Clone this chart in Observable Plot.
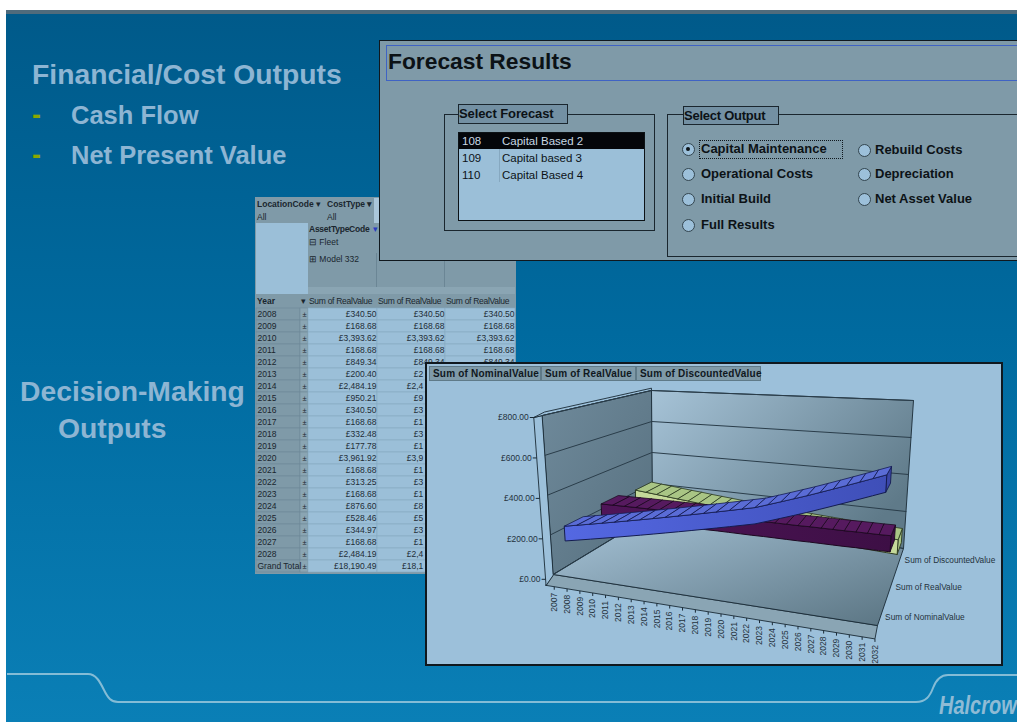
<!DOCTYPE html>
<html>
<head>
<meta charset="utf-8">
<title>Forecast Results</title>
<script src="https://cdn.jsdelivr.net/npm/d3@7"></script>
<script src="https://cdn.jsdelivr.net/npm/@observablehq/plot@0.6"></script>
<style>
  html, body { margin: 0; padding: 0; background: #fff; }
  #page { position: relative; width: 1017px; height: 722px; overflow: hidden; font-family: "Liberation Sans", Arial, sans-serif; }
  #slide { position: absolute; left: 6px; top: 10px; right: 0; bottom: 0;
           background: linear-gradient(#005a8a 0%, #006a9f 45%, #0a7fb6 100%);
           border-top: 4px solid #4f6b7c; box-sizing: border-box; }
  .abs { position: absolute; white-space: nowrap; box-sizing: border-box; }
  .head { color: #8db5d3; font-weight: bold; font-size: 28.3px; line-height: 30px; }
  .item { color: #8db5d3; font-weight: bold; font-size: 25.5px; line-height: 30px; }
  .dash { color: #8aa800; font-weight: bold; font-size: 27px; line-height: 30px; }
  .panel { background: #7f9aa8; border: 2px solid #10181e; }
  .btn { background: #7f9aa8; border: 1px solid #5f7a88; font-weight: bold; font-size: 10px; color: #10181e; line-height: 13px; padding-left: 3px; letter-spacing: .2px; }
  .th { font-size: 8.5px; line-height: 12px; color: #1a262e; padding-left: 1px; }
  .form { font-size: 13px; font-weight: bold; color: #0c1216; line-height: 16px; }
  .list { font-size: 11.5px; color: #0c1216; line-height: 16px; }
  .radio { width: 13px; height: 13px; border-radius: 50%; background: #9cc0da; border: 1px solid #33454f; }
  svg { position: absolute; display: block; }
</style>
</head>
<body>
<div id="page"><div id="slide"></div></div>
<script>
// Slide headings
const financialHeading = "Financial/Cost Outputs";
const financialItems = ["Cash Flow", "Net Present Value"];
const decisionHeading = ["Decision-Making", "Outputs"];

// Forecast selector form
const formTitle = "Forecast Results";
const forecastIds = ["108", "109", "110"];
const forecastNames = ["Capital Based 2", "Capital based 3", "Capital Based 4"];
const outputsLeft = ["Capital Maintenance", "Operational Costs", "Initial Build", "Full Results"];
const outputsRight = ["Rebuild Costs", "Depreciation", "Net Asset Value"];

// Pivot table
const tableYears = ["2008","2009","2010","2011","2012","2013","2014","2015","2016","2017","2018","2019","2020","2021","2022","2023","2024","2025","2026","2027","2028","Grand Total"];
const realValueSums = [340.50,168.68,3393.62,168.68,849.34,200.40,2484.19,950.21,340.50,168.68,332.48,177.78,3961.92,168.68,313.25,168.68,876.60,528.46,344.97,168.68,2484.19,18190.49];

// 3-D ribbon chart
const chartYears = d3.range(2007, 2033);
const valueTicks = [0, 200, 400, 600, 800];
const seriesNames = ["Sum of NominalValue", "Sum of RealValue", "Sum of DiscountedValue"];
const nominalValues = [230,243,256,269,282,295,308,321,334,347,360,373,386,399,412,425,444,463,482,501,521,541,561,581,601,621];
const realValues = [250,251,252,253,253,254,254,255,255,255,256,256,256,256,257,257,257,257,258,258,258,258,259,259,259,260];
const discountedValues = [232,226,220,214,208,203,197,192,187,182,177,173,168,164,160,156,152,149,146,143,140,138,136,134,132,130];

const page = document.getElementById("page");
function place(cls, x, y, w, h, text, style) {
  const el = document.createElement("div");
  el.className = "abs " + cls;
  el.style.left = x + "px"; el.style.top = y + "px";
  if (w != null) el.style.width = w + "px";
  if (h != null) el.style.height = h + "px";
  if (text != null) el.textContent = text;
  if (style) Object.assign(el.style, style);
  page.appendChild(el);
  return el;
}

/* ---- headings ---- */
place("head", 32, 59, null, null, financialHeading);
financialItems.forEach((t, i) => {
  place("dash", 32, 100 + i * 40, null, null, "-");
  place("item", 71, 100 + i * 40, null, null, t);
});
place("head", 20, 376, null, null, decisionHeading[0]);
place("head", 58, 413, null, null, decisionHeading[1]);

/* ---- pivot table header ---- */
const gray = "#7f9aa8", light = "#9bbfd8";
place("", 255, 197, 261, 377, null, { background: gray });
place("th", 256, 198, 62, 13, "LocationCode", { fontWeight: "bold", background: gray });
place("th", 316, 198, 8, 13, "▾", { background: gray, padding: 0 });
place("th", 326, 198, 48, 13, "CostType ▾", { fontWeight: "bold", background: gray });
place("", 374, 198, 141, 25, null, { background: "#a9c6da" });
place("th", 256, 211, 68, 12, "All", { background: gray });
place("th", 326, 211, 48, 12, "All", { background: gray });
place("", 256, 223, 52, 71, null, { background: light });
place("th", 308, 223, 207, 12, "AssetTypeCode", { fontWeight: "bold", background: gray, letterSpacing: "-.25px" });
place("th", 373, 223, 6, 12, "▾", { color: "#2a3cc0", padding: 0 });
place("th", 308, 236, 207, 12, "⊟ Fleet", { background: gray });
place("th", 308, 253, 69, 34, "⊞ Model 332", { background: gray, borderRight: "1px solid #6b8695" });
place("", 377, 253, 68, 34, null, { background: gray, borderRight: "1px solid #6b8695" });
place("th", 308, 287, 69, 7, null, { background: "#8aa5b3" });
place("th", 377, 287, 68, 7, null, { background: "#8aa5b3" });
place("th", 445, 287, 70, 7, null, { background: "#8aa5b3" });
place("th", 256, 295, 44, 12, "Year", { fontWeight: "bold", background: gray });
place("th", 301, 295, 7, 12, "▾", { background: gray, padding: 0 });
[308, 377, 445].forEach(x => place("th", x + 1, 295, 68, 12, "Sum of RealValue", { background: gray, padding: 0, letterSpacing: "-.3px" }));

/* ---- pivot table body, one band per row ---- */
const money = d => "£" + d3.format(",.2f")(d);
const tableRows = tableYears.map((year, i) => ({ year, value: realValueSums[i] }));
const valueColumns = [[308, 377], [377, 445], [445, 515]];
const tableFont = "8.5px Liberation Sans";
const measure = document.createElement("canvas").getContext("2d");
measure.font = tableFont;

// Rows from 2013 on run behind the chart panel: the middle column keeps only
// the characters left of the panel edge, the last column is fully covered.
const panelLeft = 425, firstCoveredRow = 5;
const clippedRows = tableRows.slice(firstCoveredRow).map(d => {
  const full = money(d.value), right = valueColumns[1][1] - 1;
  const start = right - measure.measureText(full).width;
  let shown = full;
  while (shown && start + measure.measureText(shown).width > panelLeft) shown = shown.slice(0, -1);
  return { year: d.year, shown, start };
});
const tablePlot = Plot.plot({
  width: 259, height: 266, margin: 0,
  style: { background: "transparent", left: "256px", top: "307px", position: "absolute", overflow: "visible" },
  x: { domain: [256, 515], range: [0, 259], axis: null },
  y: { domain: tableYears, padding: 0, axis: null },
  marks: [
    Plot.barX(tableRows, { y: "year", x1: () => 256, x2: () => 300, fill: gray, stroke: "#6d8897", strokeWidth: 0.6, inset: 0 }),
    Plot.barX(tableRows, { y: "year", x1: () => 300, x2: () => 308, fill: "#8aa5b3", stroke: "#6d8897", strokeWidth: 0.6, inset: 0 }),
    ...valueColumns.map(([a, b]) =>
      Plot.barX(tableRows, { y: "year", x1: () => a, x2: () => b, fill: light, stroke: "#86a8c0", strokeWidth: 0.6, inset: 0 })),
    Plot.text(tableRows, { y: "year", x: () => 257, text: "year", textAnchor: "start", fontSize: 8.5, fill: "#1a262e", fontFamily: "Liberation Sans" }),
    Plot.text(tableRows, { y: "year", x: () => 304, text: () => "±", fontSize: 7.5, fill: "#1a262e", fontFamily: "Liberation Sans" }),
    Plot.text(tableRows, { y: "year", x: () => valueColumns[0][1] - 1, text: d => money(d.value), textAnchor: "end", fontSize: 8.5, fill: "#1f2d36", fontFamily: "Liberation Sans" }),
    Plot.text(tableRows.slice(0, firstCoveredRow), { y: "year", x: () => valueColumns[1][1] - 1, text: d => money(d.value), textAnchor: "end", fontSize: 8.5, fill: "#1f2d36", fontFamily: "Liberation Sans" }),
    Plot.text(clippedRows, { y: "year", x: "start", text: "shown", textAnchor: "start", fontSize: 8.5, fill: "#1f2d36", fontFamily: "Liberation Sans" }),
    Plot.text(tableRows.slice(0, firstCoveredRow), { y: "year", x: () => valueColumns[2][1] - 1, text: d => money(d.value), textAnchor: "end", fontSize: 8.5, fill: "#1f2d36", fontFamily: "Liberation Sans" })
  ]
});
page.appendChild(tablePlot);

/* ---- forecast selector form ---- */
place("panel", 379, 40, 650, 221, null, { borderWidth: "1px" });
place("", 386, 45, 640, 36, null, { border: "1px solid #3f63c4" });
place("", 388, 47, null, null, formTitle, { fontSize: "22.8px", lineHeight: "28px", fontWeight: "bold", color: "#0c1216" });

place("", 444, 114, 211, 117, null, { border: "1px solid #1a262e" });
place("form", 458, 104, 110, 20, "Select Forecast", { background: "#7390a3", border: "1px solid #1a262e", lineHeight: "17px", letterSpacing: "-.1px" });
place("", 458, 132, 187, 89, null, { background: light, border: "1px solid #0c1216" });
place("", 459, 133, 185, 16, null, { background: "#04060a" });
place("", 499, 149, 1, 33, null, { background: "#86a8c0" });
forecastIds.forEach((id, i) => {
  const color = i === 0 ? "#c8d8e4" : "#0c1216";
  place("list", 462, 133 + i * 16.8, null, null, id, { color });
  place("list", 502, 133 + i * 16.8, null, null, forecastNames[i], { color });
});

place("", 667, 114, 360, 143, null, { border: "1px solid #1a262e" });
place("form", 683, 106, 96, 19, "Select Output", { background: "#7390a3", border: "1px solid #1a262e", lineHeight: "17px", letterSpacing: "-.25px", paddingLeft: "0" });
place("", 699, 140, 144, 19, null, { border: "1px dotted #10181e" });
const radioRowsLeft = [149, 174, 199, 225], radioRowsRight = [150, 174, 199];
function radio(cx, cy, label, tx, on) {
  place("radio", cx - 6.5, cy - 6.5);
  if (on) place("", cx - 2, cy - 2, 4, 4, null, { background: "#0c1216", borderRadius: "50%" });
  place("form", tx, cy - 8, null, null, label);
}
outputsLeft.forEach((t, i) => radio(688, radioRowsLeft[i], t, 701, i === 0));
outputsRight.forEach((t, i) => radio(864, radioRowsRight[i], t, 875, false));

/* ---- chart panel and its field buttons ---- */
place("panel", 425, 362, 578, 304, null, { background: "#9cc0da" });
[[429, 112], [541, 95], [636, 125]].forEach(([x, w], i) =>
  place("btn", x, 366, w, 15, seriesNames[i]));

/* ---- perspective from (year fraction, value, depth fraction) to panel pixels ---- */
const ox = 425, oy = 362, vMax = 800;
const corners = {
  low:  { fl: [553, 574], fr: [877, 625], bl: [652, 514], br: [903, 548] },
  high: { fl: [542, 415], fr: [889, 435], bl: [651, 390], br: [913, 400] }
};
const lerp = (a, b, k) => a + (b - a) * k;
function plane(c, t, d, i) { return lerp(lerp(c.fl[i], c.fr[i], t), lerp(c.bl[i], c.br[i], t), d); }
function project(t, v, d) {
  const w = v / vMax;
  return [lerp(plane(corners.low, t, d, 0), plane(corners.high, t, d, 0), w) - ox,
          lerp(plane(corners.low, t, d, 1), plane(corners.high, t, d, 1), w) - oy];
}
let polyId = 0;
const poly = pts => { const id = polyId++; return pts.map(p => { const [x, y] = project(...p); return { id, x, y }; }); };
const shape = (polys, fill, stroke = "#1a2a36", strokeWidth = 0.9) =>
  Plot.line(polys.flat(), { x: "x", y: "y", z: "id", fill, stroke, strokeWidth, curve: "linear-closed" });
const path = (polys, stroke, strokeWidth = 1) =>
  Plot.line(polys.flat(), { x: "x", y: "y", z: "id", stroke, strokeWidth });

/* ---- one ribbon: front face, ruled top face and an end cap ---- */
const ribbonHeight = 75;
const yearSpan = i => lerp(0.022, 0.995, i / (chartYears.length - 1));
function ribbon(values, d0, d1, frontFill, topFill, capFill, edge) {
  const t = yearSpan;
  const front = [poly([
    ...values.map((v, i) => [t(i), v, d0]),
    ...values.map((v, i) => [t(i), v - ribbonHeight, d0]).reverse()
  ])];
  const cells = d3.pairs(values.map((v, i) => [v, i])).map(([[a, i], [b, j]]) =>
    poly([[t(i), a, d0], [t(j), b, d0], [t(j), b, d1], [t(i), a, d1]]));
  const last = values.length - 1, end = values[last], tEnd = t(last);
  const cap = [poly([[tEnd, end, d0], [tEnd, end, d1], [tEnd, end - ribbonHeight, d1], [tEnd, end - ribbonHeight, d0]])];
  return [shape(cap, capFill, edge), shape(front, frontFill, edge, 1), shape(cells, topFill, edge, 0.8)];
}

/* ---- shaded surfaces ---- */
const gradients = () => {
  const g = document.createElementNS("http://www.w3.org/2000/svg", "g");
  g.innerHTML = `<defs>
    <linearGradient id="backWall" x1="0" y1="0" x2="1" y2="0.6"><stop offset="0" stop-color="#a6c3d7"/><stop offset="1" stop-color="#5f7a89"/></linearGradient>
    <linearGradient id="sideWall" x1="0" y1="0" x2="1" y2="1"><stop offset="0" stop-color="#6f8a9b"/><stop offset="1" stop-color="#566f7e"/></linearGradient>
    <linearGradient id="floor" x1="0" y1="0" x2="1" y2="1"><stop offset="0" stop-color="#a8c5d9"/><stop offset="1" stop-color="#5a7482"/></linearGradient>
    <linearGradient id="blueFront" x1="0" y1="0" x2="1" y2="0"><stop offset="0" stop-color="#5468e2"/><stop offset="1" stop-color="#3f4fb8"/></linearGradient>
    <linearGradient id="purpleFront" x1="0" y1="0" x2="1" y2="0"><stop offset="0" stop-color="#4f1558"/><stop offset="1" stop-color="#3d0f45"/></linearGradient>
  </defs>`;
  return g;
};

const base = -30, skirt = -0.08;
const wallLines = valueTicks.filter(v => v > 0).map(v => poly([[0, v, 0], [0, v, 1], [1, v, 1]]));
const firstLine = [poly([[0, 0, 0], [0, 0, 1]])];

// Year labels under the base plate
const labelSpan = i => lerp(0.025, 1, i / (chartYears.length - 1));
const yearLabels = chartYears.map((year, i) => {
  const [x, y] = project(labelSpan(i), base, skirt);
  return { year, x, y: y + 6, y0: y };
});
const valueLabels = valueTicks.map(v => {
  const [x, y] = project(0, v, skirt);
  return { v, x: x - 4, y, xe: x };
});
const depthSlots = [0.1, 0.5, 0.85];
const depthLabels = seriesNames.map((name, i) => {
  const [x, y] = project(1, 0, depthSlots[i]);
  return { name, x: x + 5, y };
});

const chartPlot = Plot.plot({
  width: 576, height: 302, margin: 0,
  style: { background: "transparent", left: ox + "px", top: oy + "px", position: "absolute" },
  x: { domain: [0, 576], range: [0, 576], axis: null },
  y: { domain: [0, 302], range: [0, 302], axis: null },
  marks: [
    gradients,
    shape([poly([[0, base, skirt], [1, base, skirt], [1, 0, 0], [0, 0, 0]])], "#8aa5b4"),
    shape([poly([[0, base, skirt], [0, 800, skirt], [0, 800, 0], [0, 0, 0]])], "#9cc0da"),
    shape([poly([[0, 800, skirt], [0, 815, 0.02], [0, 815, 1], [0, 800, 1], [0, 800, 0]])], "#9cc0da"),
    shape([poly([[0, 0, 1], [1, 0, 1], [1, 800, 1], [0, 800, 1]])], "url(#backWall)"),
    shape([poly([[0, 0, 0], [0, 0, 1], [0, 800, 1], [0, 800, 0]])], "url(#sideWall)"),
    shape([poly([[0, 0, 0], [1, 0, 0], [1, 0, 1], [0, 0, 1]])], "url(#floor)"),
    path(wallLines, "#2a3d4a", 1),
    path(firstLine, "#2a3d4a", 1),
    ...ribbon(discountedValues, 0.78, 0.94, "#c5d99a", "#a9c585", "#a9c585", "#2c3a20"),
    ...ribbon(realValues, 0.44, 0.61, "url(#purpleFront)", "#561a5f", "#3a0d42", "#1c0820"),
    ...ribbon(nominalValues, 0.07, 0.26, "url(#blueFront)", "#5a6cd6", "#3a46a8", "#141c50"),
    Plot.link(yearLabels, { x1: "x", y1: "y0", x2: "x", y2: d => d.y0 + 3, stroke: "#1a2a36", strokeWidth: 1 }),
    Plot.link(valueLabels, { x1: "x", y1: "y", x2: "xe", y2: "y", stroke: "#1a2a36", strokeWidth: 1 }),
    Plot.text(yearLabels, { x: "x", y: "y", text: d => String(d.year), rotate: -90, textAnchor: "end", fontSize: 8.5, fill: "#24323c", fontFamily: "Liberation Sans" }),
    Plot.text(valueLabels, { x: d => d.x - 1, y: "y", text: d => "£" + d3.format(".2f")(d.v), textAnchor: "end", fontSize: 8.5, fill: "#24323c", fontFamily: "Liberation Sans" }),
    Plot.text(depthLabels, { x: "x", y: "y", text: "name", textAnchor: "start", fontSize: 8.3, fill: "#24323c", fontFamily: "Liberation Sans" })
  ]
});
page.appendChild(chartPlot);

/* ---- footer rule and logotype ---- */
const footer = document.createElementNS("http://www.w3.org/2000/svg", "svg");
footer.setAttribute("width", 1017); footer.setAttribute("height", 722);
footer.style.left = "0"; footer.style.top = "0"; footer.style.pointerEvents = "none";
footer.innerHTML = `<path d="M7 674 H88 C96 674 100 682 104 690 C108 698 111 702 118 702 H916 C926 702 930 696 933 688 C936 680 940 675 948 675 H1017" fill="none" stroke="#84bcd6" stroke-width="2"/>`;
page.appendChild(footer);
place("", 939, 691, null, null, "Halcrow", { fontSize: "25px", lineHeight: "28px", fontWeight: "bold", fontStyle: "italic", color: "#8fbbd5", transform: "scaleX(.8)", transformOrigin: "left center" });
</script>
</body>
</html>
